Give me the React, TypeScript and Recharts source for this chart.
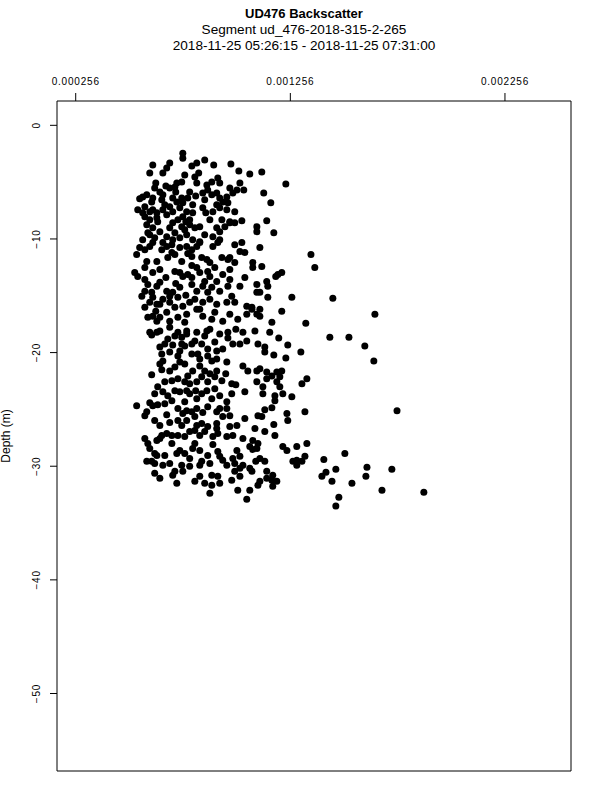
import { ScatterChart, Scatter, XAxis, YAxis, ReferenceArea } from "recharts";

// backscatter (top axis) vs depth in metres
const xTicks = [0.000256, 0.001256, 0.002256];
const yTicks = [0, -10, -20, -30, -40, -50];
const xDomain = [0.0001688, 0.0025637];
const yDomain = [-56.82, 2.14];

const titleLines = [
  "UD476 Backscatter",
  "Segment ud_476-2018-315-2-265",
  "2018-11-25 05:26:15 - 2018-11-25 07:31:00",
];

// [backscatter, depth]
const upperHits: [number, number][] = [
  [755e-6,-2.45],[755e-6,-2.89],[615e-6,-3.5],[601e-6,-4.2],[694e-6,-3.32],[680e-6,-3.76],[662e-6,-4.2],[797e-6,-3.59],
  [820e-6,-3.32],[857e-6,-3.06],[899e-6,-3.5],[979e-6,-3.41],[1016e-6,-4.02],[1067e-6,-4.29],[1123e-6,-4.11],[1235e-6,-5.16],
  [764e-6,-4.37],[811e-6,-4.55],[829e-6,-4.2],[629e-6,-5.07],[624e-6,-5.51],[648e-6,-5.86],[694e-6,-5.51],[718e-6,-5.42],
  [727e-6,-5.07],[750e-6,-4.99],[820e-6,-5.07],[867e-6,-5.25],[890e-6,-4.99],[918e-6,-4.64],[927e-6,-5.07],[974e-6,-5.51],
  [1021e-6,-5.07],[1039e-6,-5.69],[1132e-6,-5.95],[1165e-6,-6.82],[587e-6,-6.12],[568e-6,-6.3],[554e-6,-6.47],[615e-6,-6.39],
  [610e-6,-6.74],[662e-6,-6.12],[657e-6,-6.56],[708e-6,-6.39],[727e-6,-6.74],[750e-6,-6.39],[755e-6,-6.82],[787e-6,-5.86],
  [778e-6,-6.39],[801e-6,-7],[848e-6,-5.95],[857e-6,-6.56],[871e-6,-5.69],[913e-6,-5.95],[927e-6,-6.39],[941e-6,-6.74],
  [960e-6,-6.3],[988e-6,-5.95],[1007e-6,-5.69],[545e-6,-7.44],[578e-6,-7.17],[601e-6,-7.61],[615e-6,-7.44],[634e-6,-7.7],
  [662e-6,-7.44],[680e-6,-7.87],[694e-6,-7.17],[708e-6,-7.61],[741e-6,-7.26],[755e-6,-8.05],[773e-6,-7.61],[787e-6,-8.31],
  [848e-6,-7.26],[895e-6,-7.61],[927e-6,-7.26],[913e-6,-7],[960e-6,-7.44],[997e-6,-7.61],[881e-6,-8.31],[937e-6,-8.31],
  [974e-6,-8.49],[1030e-6,-8.4],[1146e-6,-8.4],[578e-6,-8.05],[601e-6,-8.31],[634e-6,-8.14],[587e-6,-8.75],[615e-6,-9.01],
  [601e-6,-9.62],[624e-6,-9.89],[648e-6,-9.36],[694e-6,-9.01],[708e-6,-8.57],[732e-6,-8.31],[750e-6,-8.92],[764e-6,-9.19],
  [787e-6,-8.75],[811e-6,-9.01],[834e-6,-8.92],[913e-6,-9.01],[927e-6,-9.36],[951e-6,-8.92],[974e-6,-8.57],[997e-6,-8.57],
  [1100e-6,-8.92],[1100e-6,-9.36],[1179e-6,-9.45],[680e-6,-9.8],[708e-6,-10.06],[741e-6,-9.89],[773e-6,-9.62],[801e-6,-10.06],
  [834e-6,-10.24],[895e-6,-9.8],[927e-6,-10.06],[918e-6,-10.32],[895e-6,-10.67],
];

const middleHits: [number, number][] = [
  [554e-6,-10.76],[540e-6,-11.37],[578e-6,-10.94],[601e-6,-10.67],[615e-6,-10.32],[657e-6,-10.94],[680e-6,-10.67],[704e-6,-10.5],
  [704e-6,-11.2],[718e-6,-11.37],[773e-6,-10.67],[797e-6,-10.94],[820e-6,-10.67],[834e-6,-10.32],[997e-6,-10.5],[1030e-6,-10.32],
  [1114e-6,-10.76],[1021e-6,-11.11],[1044e-6,-11.2],[797e-6,-11.55],[843e-6,-11.64],[867e-6,-11.81],[881e-6,-12.07],[937e-6,-11.64],
  [974e-6,-11.64],[997e-6,-12.07],[965e-6,-11.81],[1081e-6,-12.07],[1081e-6,-12.51],[1123e-6,-12.42],[1352e-6,-11.37],[1370e-6,-12.51],
  [531e-6,-12.95],[545e-6,-13.3],[615e-6,-12.95],[718e-6,-12.86],[741e-6,-12.95],[755e-6,-13.3],[778e-6,-13.12],[797e-6,-13.39],
  [820e-6,-12.51],[834e-6,-12.95],[871e-6,-12.86],[881e-6,-13.3],[913e-6,-13.74],[941e-6,-13.12],[1044e-6,-13.39],[1021e-6,-14.17],
  [578e-6,-13.56],[592e-6,-14],[578e-6,-14.61],[610e-6,-14.7],[634e-6,-14.17],[648e-6,-13.82],[680e-6,-14.61],[694e-6,-15.05],
  [708e-6,-14.7],[741e-6,-14.26],[797e-6,-14],[820e-6,-14.61],[848e-6,-14.17],[871e-6,-14.7],[890e-6,-14.26],[927e-6,-14.61],
  [965e-6,-14.17],[983e-6,-15.05],[1100e-6,-14],[1100e-6,-14.7],[1146e-6,-13.74],[1151e-6,-14.17],[1151e-6,-15.14],[1198e-6,-13.12],
  [1216e-6,-12.95],[1263e-6,-15.14],[564e-6,-15.05],[601e-6,-15.57],[615e-6,-15.14],[634e-6,-15.75],[662e-6,-15.31],[694e-6,-15.57],
  [732e-6,-15.14],[755e-6,-15.92],[787e-6,-15.57],[811e-6,-15.31],[848e-6,-15.57],[881e-6,-15.31],[913e-6,-15.75],[960e-6,-15.57],
  [1053e-6,-15.92],[1077e-6,-16.19],[1100e-6,-16.62],[1053e-6,-16.62],[1216e-6,-16.36],[615e-6,-16.8],[634e-6,-17.24],[680e-6,-16.45],
  [694e-6,-17.24],[732e-6,-16.89],[773e-6,-16.62],[820e-6,-16.19],[848e-6,-16.8],[890e-6,-17.06],[941e-6,-17.24],[974e-6,-16.62],
  [1011e-6,-17.06],[1170e-6,-17.32],[1328e-6,-17.41],[601e-6,-18.2],[648e-6,-18.11],[694e-6,-17.76],[732e-6,-18.2],[773e-6,-18.11],
  [820e-6,-18.2],[867e-6,-18.11],[927e-6,-18.37],[965e-6,-18.2],[1035e-6,-18.2],[1091e-6,-18.11],[1160e-6,-18.2],[1454e-6,-15.22],
  [1650e-6,-16.62],[1077e-6,-16.01],[1114e-6,-16.19],[1114e-6,-16.8],[1188e-6,-13.3],[1114e-6,-14.7],[1202e-6,-18.72],[1440e-6,-18.64],
  [1529e-6,-18.64],
];

const lowerHits: [number, number][] = [
  [1603e-6,-19.42],[1105e-6,-19.25],[1137e-6,-19.51],[1137e-6,-19.95],[1244e-6,-19.34],[1179e-6,-20.21],[1305e-6,-19.95],[1235e-6,-20.47],
  [1645e-6,-20.73],[610e-6,-18.46],[634e-6,-18.2],[718e-6,-18.55],[750e-6,-18.64],[773e-6,-18.37],[857e-6,-18.55],[965e-6,-18.72],
  [988e-6,-19.25],[1053e-6,-18.99],[648e-6,-19.51],[671e-6,-19.25],[708e-6,-19.34],[750e-6,-19.25],[764e-6,-19.42],[797e-6,-19.25],
  [843e-6,-19.25],[871e-6,-19.69],[913e-6,-19.86],[657e-6,-20.12],[662e-6,-20.73],[694e-6,-19.95],[732e-6,-20.3],[797e-6,-20.12],
  [825e-6,-20.12],[871e-6,-20.3],[890e-6,-20.73],[913e-6,-20.56],[960e-6,-20.82],[610e-6,-21.96],[657e-6,-21.52],[694e-6,-21.61],
  [741e-6,-20.82],[764e-6,-21],[834e-6,-21.17],[857e-6,-21.61],[881e-6,-21.87],[913e-6,-21.61],[1035e-6,-21.17],[1058e-6,-21.61],
  [1100e-6,-21.61],[1114e-6,-21.43],[1146e-6,-21.7],[1170e-6,-22.05],[1193e-6,-21.7],[1216e-6,-21.61],[1207e-6,-22.13],[638e-6,-23.01],
  [671e-6,-22.57],[704e-6,-22.48],[732e-6,-22.31],[764e-6,-22.57],[778e-6,-22.05],[787e-6,-22.75],[820e-6,-22.57],[843e-6,-22.13],
  [871e-6,-22.57],[904e-6,-22.13],[937e-6,-22.48],[983e-6,-22.75],[1100e-6,-22.57],[1128e-6,-23.01],[1146e-6,-22.31],[1193e-6,-22.57],
  [1207e-6,-23.01],[1310e-6,-22.75],[1333e-6,-22.31],[662e-6,-23.45],[685e-6,-23.8],[704e-6,-24.23],[718e-6,-23.36],[741e-6,-23.45],
  [773e-6,-23.36],[787e-6,-23.62],[820e-6,-24.06],[843e-6,-23.62],[867e-6,-23.36],[890e-6,-24.06],[927e-6,-23.8],[960e-6,-24.32],
  [983e-6,-23.62],[1044e-6,-23.45],[1128e-6,-23.62],[1184e-6,-23.8],[1221e-6,-23.62],[1263e-6,-23.88],[1184e-6,-24.23],[540e-6,-24.67],
  [578e-6,-25.55],[587e-6,-25.2],[615e-6,-24.67],[638e-6,-24.58],[624e-6,-25.98],[648e-6,-26.42],[680e-6,-25.46],[732e-6,-24.93],
  [755e-6,-25.37],[773e-6,-25.11],[797e-6,-25.2],[820e-6,-24.93],[871e-6,-24.76],[913e-6,-25.2],[927e-6,-24.93],[960e-6,-24.93],
  [974e-6,-25.55],[1105e-6,-25.55],[1123e-6,-25.63],[1137e-6,-25.02],[1170e-6,-24.85],[1240e-6,-25.37],[1244e-6,-25.98],[1324e-6,-25.2],
  [1753e-6,-25.11],[732e-6,-25.98],[750e-6,-26.42],[773e-6,-25.98],[811e-6,-25.63],[820e-6,-26.42],[843e-6,-26.25],[871e-6,-26.51],
  [913e-6,-26.25],[913e-6,-26.68],[1179e-6,-26.33],
];

const bottomHits: [number, number][] = [
  [578e-6,-27.56],[592e-6,-28],[634e-6,-27.73],[657e-6,-27.3],[680e-6,-27.12],[704e-6,-27.3],[704e-6,-28],[732e-6,-27.3],
  [764e-6,-27.38],[787e-6,-26.95],[811e-6,-26.86],[834e-6,-27.3],[857e-6,-26.95],[895e-6,-27.38],[918e-6,-27.12],[960e-6,-27.38],
  [974e-6,-26.51],[1007e-6,-26.42],[988e-6,-27.3],[1137e-6,-26.95],[1184e-6,-27.3],[1081e-6,-27.73],[1105e-6,-28],[1221e-6,-28.26],
  [1286e-6,-28.26],[1333e-6,-28],[1240e-6,-28.61],[601e-6,-28.43],[624e-6,-28.87],[587e-6,-29.57],[610e-6,-29.57],[634e-6,-29.05],
  [671e-6,-29.05],[662e-6,-29.92],[727e-6,-28.87],[741e-6,-28.61],[787e-6,-29.31],[801e-6,-28.43],[834e-6,-28.61],[843e-6,-29.57],
  [834e-6,-29.92],[871e-6,-29.05],[918e-6,-28.7],[927e-6,-29.13],[941e-6,-29.48],[960e-6,-29.92],[988e-6,-29.31],[1007e-6,-28.61],
  [1021e-6,-29.13],[1035e-6,-29.92],[1067e-6,-28.26],[1100e-6,-28.43],[1114e-6,-29.31],[1137e-6,-29.57],[1146e-6,-30.45],[1174e-6,-30.8],
  [1170e-6,-31.23],[1193e-6,-31.32],[1268e-6,-29.57],[1286e-6,-29.48],[1310e-6,-29.57],[1324e-6,-29.13],[624e-6,-30.62],[708e-6,-30.8],
  [718e-6,-30.45],[750e-6,-29.92],[755e-6,-30.45],[787e-6,-30.01],[834e-6,-30.88],[857e-6,-31.5],[890e-6,-31.67],[890e-6,-30.8],
  [918e-6,-30.88],[927e-6,-31.5],[983e-6,-31.23],[997e-6,-30.45],[1021e-6,-30.18],[1011e-6,-32.11],[1067e-6,-32.11],[1105e-6,-31.67],
  [1114e-6,-31.32],[1146e-6,-31.06],[727e-6,-31.5],[881e-6,-32.37],[1053e-6,-32.9],[1081e-6,-28.52],[1510e-6,-28.87],[1095e-6,-29.57],
  [1077e-6,-30.45],[1286e-6,-29.92],[1412e-6,-29.4],[1468e-6,-30.27],[1613e-6,-30.1],[1608e-6,-30.88],[1729e-6,-30.27],[1174e-6,-31.76],
  [1422e-6,-30.53],[1403e-6,-30.88],[1450e-6,-31.32],[1543e-6,-31.5],[1683e-6,-32.11],[1878e-6,-32.28],[1482e-6,-32.72],[1468e-6,-33.51],
];

// extra returns filling the dense core between 0.0005 and 0.0010
const coreHits: [number, number][] = [
  [671e-6,-7.0],[722e-6,-5.86],[815e-6,-6.21],[862e-6,-7.7],[638e-6,-8.49],[568e-6,-7.7],[769e-6,-8.49],[676e-6,-5.34],
  [801e-6,-7.7],[890e-6,-6.12],[965e-6,-6.82],[592e-6,-9.45],[718e-6,-9.45],[857e-6,-9.62],[662e-6,-10.32],[741e-6,-10.76],
  [685e-6,-11.64],[634e-6,-11.99],[587e-6,-11.99],[750e-6,-11.99],[568e-6,-10.06],[778e-6,-11.29],
  [648e-6,-12.69],[676e-6,-13.39],[578e-6,-12.51],[797e-6,-12.34],[904e-6,-12.51],[974e-6,-12.69],[857e-6,-13.74],[722e-6,-13.91],
  [648e-6,-15.75],[718e-6,-16.01],[834e-6,-16.19],[904e-6,-16.45],[997e-6,-15.57],[648e-6,-16.89],[629e-6,-16.36],[764e-6,-17.32],
  [881e-6,-17.94],[1002e-6,-17.94],[592e-6,-16.89],[578e-6,-16.01],[769e-6,-14.96],[974e-6,-13.56],
  [685e-6,-18.81],[811e-6,-18.99],[904e-6,-19.07],[1021e-6,-19.25],[741e-6,-19.86],[834e-6,-20.56],[941e-6,-19.69],[648e-6,-21.0],
  [718e-6,-21.26],[801e-6,-21.61],[955e-6,-21.87],[1002e-6,-22.83],[904e-6,-23.18],[815e-6,-23.36],[624e-6,-23.62],[601e-6,-24.41],
  [671e-6,-24.5],[764e-6,-24.32],[848e-6,-25.28],[941e-6,-25.63],[1044e-6,-25.81],[694e-6,-26.16],[648e-6,-27.56],[811e-6,-28.0],
  [895e-6,-28.08],[1035e-6,-27.56],[1091e-6,-26.68],[764e-6,-28.87],[694e-6,-29.75],[881e-6,-29.75],[997e-6,-29.75],[1067e-6,-30.18],
  [624e-6,-29.75],[648e-6,-31.06],[811e-6,-31.32],[1021e-6,-30.88],
];

const points = [...upperHits, ...middleHits, ...lowerHits, ...bottomHits, ...coreHits].map(([x, y]) => ({ x, y }));

const FONT = '"Liberation Sans", Arial, Helvetica, sans-serif';

function TopTick(props: any) {
  const { x, payload } = props;
  return (
    <text x={x} y={85} textAnchor="middle" fontSize={10} letterSpacing={0.8} fontFamily={FONT} fill="#000">
      {payload.value.toFixed(6)}
    </text>
  );
}

function LeftTick(props: any) {
  const { y, payload } = props;
  const label = String(payload.value).replace("-", "\u2212");
  return (
    <text x={40} y={y} transform={`rotate(-90 40 ${y})`} textAnchor="middle" fontSize={10} letterSpacing={0.8} fontFamily={FONT} fill="#000">
      {label}
    </text>
  );
}

const Dot = (p: any) => <circle cx={p.cx} cy={p.cy} r={3.5} fill="#000" />;

export default function App() {
  return (
    <div style={{ position: "absolute", left: 0, top: 0, width: 600, height: 800, background: "#fff" }}>
      <ScatterChart width={600} height={800} margin={{ top: 71, right: 29, bottom: 29, left: 7 }}>
        <XAxis
          xAxisId="bs"
          orientation="top"
          type="number"
          dataKey="x"
          domain={xDomain}
          ticks={xTicks}
          allowDataOverflow
          height={30}
          axisLine={false}
          tickSize={8}
          tickLine={{ stroke: "#000" }}
          tick={<TopTick />}
        />
        <YAxis
          yAxisId="depth"
          type="number"
          dataKey="y"
          domain={yDomain}
          ticks={yTicks}
          allowDataOverflow
          width={50}
          axisLine={false}
          tickSize={7}
          tickLine={{ stroke: "#000" }}
          tick={<LeftTick />}
        />
        <ReferenceArea
          xAxisId="bs"
          yAxisId="depth"
          x1={xDomain[0]}
          x2={xDomain[1]}
          y1={yDomain[0]}
          y2={yDomain[1]}
          fill="none"
          stroke="#000"
          strokeWidth={1}
          ifOverflow="visible"
        />
        <Scatter xAxisId="bs" yAxisId="depth" data={points} fill="#000" shape={Dot} isAnimationActive={false} />
      </ScatterChart>
      <svg width={600} height={800} style={{ position: "absolute", left: 0, top: 0, pointerEvents: "none" }}>
        <text x={304} y={18} textAnchor="middle" fontSize={13} fontWeight="bold" fontFamily={FONT}>
          {titleLines[0]}
        </text>
        <text x={304} y={34} textAnchor="middle" fontSize={13.6} fontFamily={FONT}>
          {titleLines[1]}
        </text>
        <text x={304} y={50} textAnchor="middle" fontSize={13.6} fontFamily={FONT}>
          {titleLines[2]}
        </text>
        <text x={10} y={436} transform="rotate(-90 10 436)" textAnchor="middle" fontSize={12} fontFamily={FONT}>
          Depth (m)
        </text>
      </svg>
    </div>
  );
}
